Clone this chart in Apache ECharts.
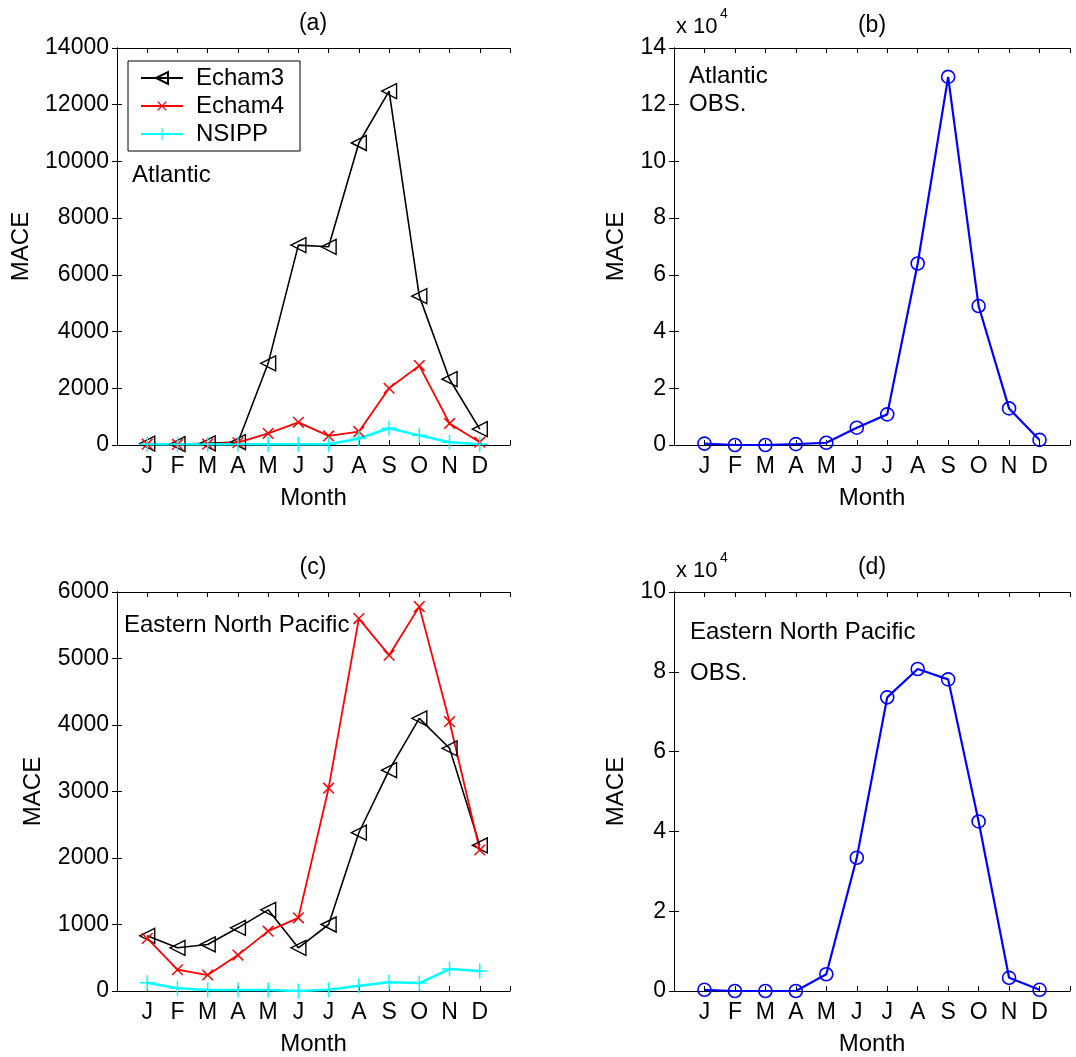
<!DOCTYPE html>
<html>
<head>
<meta charset="utf-8">
<script src="https://cdn.jsdelivr.net/npm/echarts@6/dist/echarts.min.js"></script>
<style>html,body{margin:0;padding:0;background:#fff}#c{width:1076px;height:1057px}</style>
</head>
<body>
<div id="c"></div>
<script>
// ---- data ----
const months = ['J','F','M','A','M','J','J','A','S','O','N','D'];
// (a) Atlantic, models
const atlEcham3 = [50, 30, 60, 100, 2880, 7050, 6990, 10650, 12480, 5250, 2320, 560];
const atlEcham4 = [30, 20, 30, 80, 410, 800, 320, 470, 2000, 2800, 760, 100];
const atlNSIPP  = [30, 30, 30, 30, 30, 30, 30, 230, 590, 340, 100, 30];
// (b) Atlantic OBS (x 10^4)
const atlObs = [0.05, 0.0, 0.0, 0.03, 0.08, 0.61, 1.08, 6.4, 12.98, 4.9, 1.29, 0.18];
// (c) Eastern North Pacific, models
const enpEcham3 = [830, 650, 700, 950, 1220, 650, 1000, 2380, 3320, 4100, 3650, 2190];
const enpEcham4 = [790, 320, 240, 540, 900, 1100, 3050, 5600, 5050, 5780, 4050, 2120];
const enpNSIPP  = [125, 40, 15, 15, 15, 0, 20, 80, 130, 120, 330, 300];
// (d) Eastern North Pacific OBS (x 10^4)
const enpObs = [0.03, 0.0, 0.0, 0.0, 0.42, 3.34, 7.36, 8.07, 7.81, 4.25, 0.33, 0.03];
const panelTitles = ['(a)','(b)','(c)','(d)'];
const yTicks = [[0,14000,2000],[0,14,2],[0,6000,1000],[0,10,2]];

const FONT = 'Liberation Sans, Arial, Helvetica, sans-serif';
const toXY = arr => arr.map((v,i)=>[i+1, v]);

const grids = [
  {left:117, top:48, width:393, height:397},
  {left:674, top:48, width:396, height:397},
  {left:117, top:592, width:393, height:399},
  {left:674, top:592, width:396, height:399}
];
const yNameGap = [84, 46, 72, 46];

const xAxes = [], yAxes = [];
grids.forEach((g, i) => {
  const common = {gridIndex:i, type:'value', min:0, max:13, interval:1,
    axisLine:{show:true, onZero:false, lineStyle:{color:'#000', width:1}},
    axisTick:{show:true, inside:true, length:5, lineStyle:{color:'#000'}},
    splitLine:{show:false}};
  xAxes.push(Object.assign({}, common, {position:'bottom',
    name:'Month', nameLocation:'middle', nameGap:41,
    nameTextStyle:{fontSize:24, color:'#000', fontFamily:FONT},
    axisLabel:{show:true, margin:10, fontSize:23, color:'#000', fontFamily:FONT,
      formatter: v => (v>=1 && v<=12) ? months[v-1] : ''}}));
  xAxes.push(Object.assign({}, common, {position:'top', axisLabel:{show:false}}));
  const [mn, mx, it] = yTicks[i];
  const yc = {gridIndex:i, type:'value', min:mn, max:mx, interval:it,
    axisLine:{show:true, lineStyle:{color:'#000', width:1}},
    axisTick:{show:true, inside:true, length:5, lineStyle:{color:'#000'}},
    splitLine:{show:false}};
  yAxes.push(Object.assign({}, yc, {position:'left',
    name:'MACE', nameLocation:'middle', nameGap:yNameGap[i], nameRotate:90,
    nameTextStyle:{fontSize:24, color:'#000', fontFamily:FONT},
    axisLabel:{show:true, margin:8, fontSize:23, color:'#000', fontFamily:FONT,
      formatter: v => String(v)}}));
  yAxes.push(Object.assign({}, yc, {position:'right', axisLabel:{show:false}}));
});

const plusPath = 'path://M9,0h2v9h9v2h-9v9h-2v-9h-9v-2h9z';
function echam3(data, gi){
  return {name:'Echam3', type:'line', xAxisIndex:2*gi, yAxisIndex:2*gi, data:toXY(data),
    symbol:'triangle', symbolRotate:90, symbolSize:15, showAllSymbol:true,
    lineStyle:{color:'#000', width:1.6},
    itemStyle:{color:'rgba(255,255,255,0)', borderColor:'#000', borderWidth:1.4},
    emphasis:{disabled:true}, animation:false};
}
function echam4(data, gi){
  return {name:'Echam4', type:'line', xAxisIndex:2*gi, yAxisIndex:2*gi, data:toXY(data),
    symbol:plusPath, symbolRotate:45, symbolSize:15, showAllSymbol:true,
    lineStyle:{color:'#ff0000', width:1.8},
    itemStyle:{color:'#ff0000'},
    emphasis:{disabled:true}, animation:false};
}
function nsipp(data, gi){
  return {name:'NSIPP', type:'line', xAxisIndex:2*gi, yAxisIndex:2*gi, data:toXY(data),
    symbol:plusPath, symbolSize:15, showAllSymbol:true,
    lineStyle:{color:'#00ffff', width:2.5},
    itemStyle:{color:'#00ffff'},
    emphasis:{disabled:true}, animation:false};
}
function obs(data, gi){
  return {name:'OBS', type:'line', xAxisIndex:2*gi, yAxisIndex:2*gi, data:toXY(data),
    symbol:'circle', symbolSize:13, showAllSymbol:true,
    lineStyle:{color:'#0000ff', width:2.2},
    itemStyle:{color:'rgba(255,255,255,0)', borderColor:'#0000ff', borderWidth:1.6},
    emphasis:{disabled:true}, animation:false};
}

const series = [
  echam3(atlEcham3,0), echam4(atlEcham4,0), nsipp(atlNSIPP,0),
  obs(atlObs,1),
  echam3(enpEcham3,2), echam4(enpEcham4,2), nsipp(enpNSIPP,2),
  obs(enpObs,3)
];

function txt(text, x, y, size, align){
  return {type:'text', x:x, y:y, silent:true,
    style:{text:text, fill:'#000', font: size+'px '+FONT,
      align: align||'left', verticalAlign:'middle',
      textAlign: align||'left', textVerticalAlign:'middle'}};
}
const graphics = [
  txt(panelTitles[0], 313, 24, 23, 'center'),
  txt(panelTitles[1], 872, 26, 23, 'center'),
  txt(panelTitles[2], 313, 568, 23, 'center'),
  txt(panelTitles[3], 872, 568, 23, 'center'),
  txt('Atlantic', 132, 175, 24),
  txt('Atlantic', 689, 76, 24),
  txt('OBS.', 689, 104, 24),
  txt('Eastern North Pacific', 124, 625, 24),
  txt('Eastern North Pacific', 690, 632, 24),
  txt('OBS.', 690, 673, 24),
  txt('x 10', 676, 27, 22),
  txt('4', 720, 14, 14),
  txt('x 10', 676, 571, 22),
  txt('4', 720, 558, 14)
];

const chart = echarts.init(document.getElementById('c'), null, {renderer:'canvas'});
chart.setOption({
  backgroundColor:'#fff',
  animation:false,
  grid: grids,
  xAxis: xAxes,
  yAxis: yAxes,
  legend: {
    data:['Echam3','Echam4','NSIPP'],
    orient:'vertical', left:128, top:61,
    padding:[5,16,5,12], itemGap:4,
    itemWidth:42, itemHeight:15,
    backgroundColor:'#fff',
    borderColor:'#000', borderWidth:1,
    selectedMode:false,
    textStyle:{fontSize:24, color:'#000', fontFamily:FONT, padding:[0,0,0,8]}
  },
  series: series,
  graphic: graphics
});
</script>
</body>
</html>
